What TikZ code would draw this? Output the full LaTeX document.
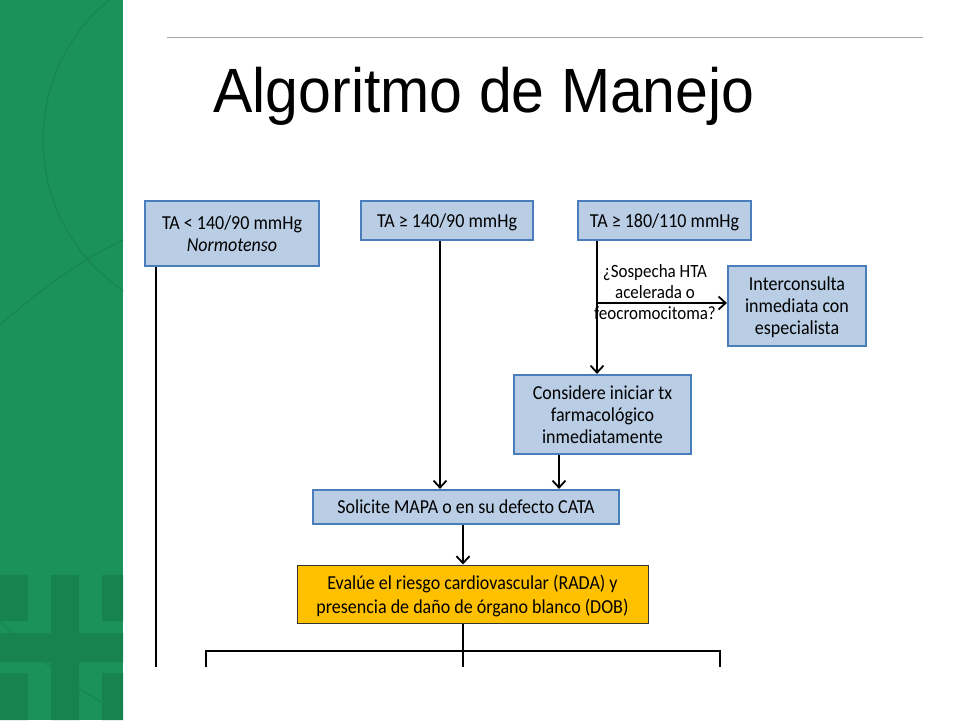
\documentclass[tikz,border=0pt]{standalone}
\usepackage{fontspec}
\usepackage{graphicx}
\setmainfont{Carlito}
\newfontfamily\titlefont{Liberation Sans}
\usetikzlibrary{arrows.meta,positioning}
\definecolor{slidegreen}{RGB}{27,146,89}
\definecolor{slidegreendark}{RGB}{23,132,80}
\definecolor{boxfill}{RGB}{185,205,229}
\definecolor{boxdraw}{RGB}{74,126,187}
\definecolor{evalfill}{RGB}{255,192,0}
% the slide text is a little taller than wide
\newcommand{\vst}[1]{\raisebox{-2.5pt}[\height][\depth]{\scalebox{1}[1.1]{\begin{tabular}{@{}c@{}}#1\end{tabular}}}}
\begin{document}
\begin{tikzpicture}[x=1pt,y=-1pt,ta_box/.style={rectangle, draw=boxdraw, fill=boxfill, line width=2.2pt, inner sep=0pt, align=center, font=\fontsize{18}{20}\selectfont},eval_box/.style={rectangle, draw=black!80, fill=evalfill, line width=1pt, inner sep=0pt, align=center, font=\fontsize{18}{22.7}\selectfont},arr/.style={line width=1.8pt, -{Straight Barb[length=7pt,width=13pt]}},conn/.style={line width=1.8pt},]
            \useasboundingbox (0,0) rectangle (960,720);
            % slide background
            \fill[slidegreen] (0,0) rectangle (123,720);
            \fill[slidegreendark] (0,575) rectangle (28,621) (51,575) rectangle (79,720) (102,575) rectangle (123,621);
            \fill[slidegreendark] (0,633) rectangle (123,662) (0,673) rectangle (28,720) (102,673) rectangle (123,720);
            \begin{scope}
              \clip (0,0) rectangle (123,720);
              \draw[slidegreendark, line width=1pt] (225,140) circle (182);
              \draw[slidegreendark, line width=1pt] (0,325) .. controls (40,290) and (80,260) .. (123,240);
              \draw[slidegreendark, line width=1pt] (0,622) .. controls (40,660) and (80,695) .. (123,712);
            \end{scope}
            \draw[black!35, line width=1pt] (167,37) -- (923,37);
            \node[anchor=base west, font=\titlefont\fontsize{59}{70}\selectfont] (title) at (210,112) {\scalebox{1}[1.06]{Algoritmo de Manejo}};
            % boxes
            \node[ta_box, minimum width=174pt, minimum height=65pt] (ta1) at (232,233.5) {\vst{TA < 140/90 mmHg\\\textit{Normotenso}}};
            \node[ta_box, minimum width=172pt, minimum height=39pt] (ta2) at (447,220.5) {\vst{TA ≥ 140/90 mmHg}};
            \node[ta_box, minimum width=173pt, minimum height=39pt] (ta3) at (664.5,220.5) {\vst{TA ≥ 180/110 mmHg}};
            \node[ta_box, minimum width=138pt, minimum height=80pt] (inter) at (797,306) {\vst{Interconsulta\\inmediata con\\especialista}};
            \node[ta_box, minimum width=177pt, minimum height=79pt] (tx) at (602.5,414.5) {\vst{Considere iniciar tx\\farmacológico\\inmediatamente}};
            \node[ta_box, minimum width=306pt, minimum height=34pt] (mapa) at (466,507) {\vst{Solicite MAPA o en su defecto CATA}};
            \node[eval_box, minimum width=351pt, minimum height=58pt] (rada) at (472.5,594) {\vst{Evalúe el riesgo cardiovascular (RADA) y\\presencia de daño de órgano blanco (DOB)}};
            \node[align=center, font=\fontsize{17}{19}\selectfont] (sosp) at (655,292) {\vst{¿Sospecha HTA\\acelerada o\\feocromocitoma?}};
            % connectors
            \coordinate (ta1end) at (156,667);
            \coordinate (branch) at (597,303);
            \coordinate (split) at (463,651);
            \coordinate (lft) at (206,667);
            \coordinate (mid) at (463,667);
            \coordinate (rgt) at (720,667);
            \draw[conn] (ta1.south -| ta1end) -- (ta1end);
            \draw[arr] ([xshift=-7pt]ta2.south) -- ([xshift=-7pt]ta2.south |- mapa.north);
            \draw[arr] ([xshift=-67.5pt]ta3.south) -- ([xshift=-67.5pt]ta3.south |- tx.north);
            \draw[arr] (branch) -- (branch -| inter.west);
            \draw[arr] ([xshift=-43.5pt]tx.south) -- ([xshift=-43.5pt]tx.south |- mapa.north);
            \draw[arr] ([xshift=-3pt]mapa.south) -- ([xshift=-3pt]mapa.south |- rada.north);
            \draw[conn] ([xshift=-9.5pt]rada.south) -- (split);
            \draw[conn] (lft) |- (split) -| (rgt);
            \draw[conn] (split) -- (mid);
        \end{tikzpicture}
\end{document}
